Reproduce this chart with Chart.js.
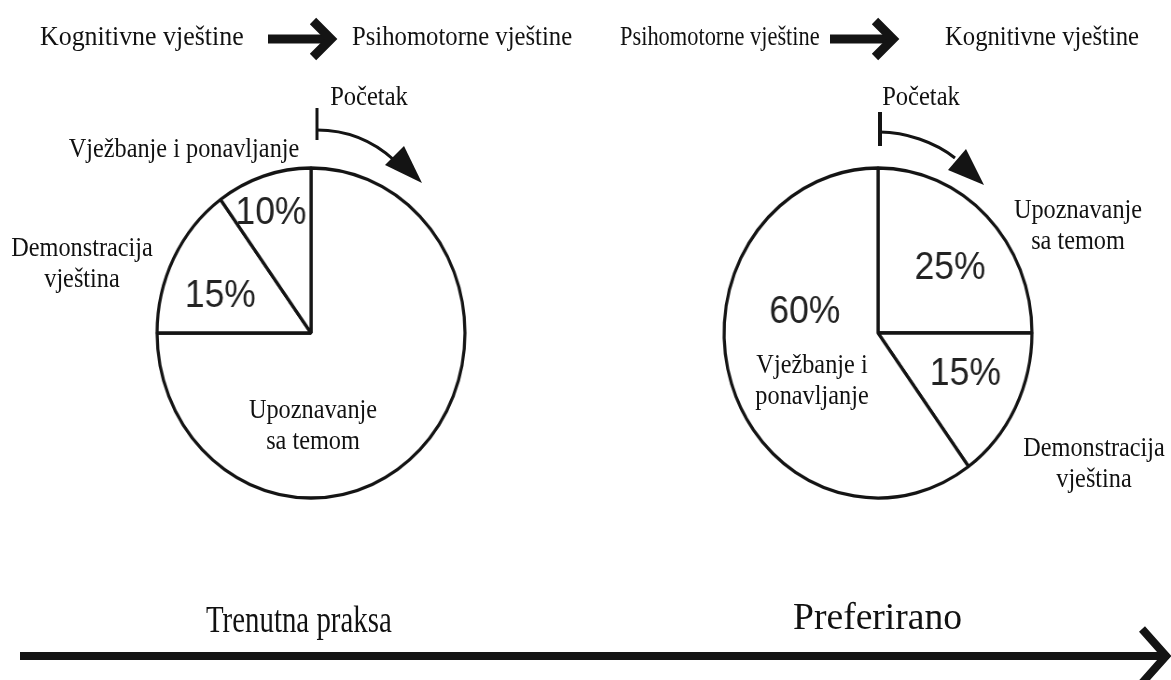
<!DOCTYPE html>
<html>
<head>
<meta charset="utf-8">
<script src="https://cdn.jsdelivr.net/npm/chart.js@4"></script>
<style>
  html, body { margin: 0; padding: 0; background: #fff; }
  #stage { position: relative; width: 1171px; height: 680px; overflow: hidden; }
  .pie { position: absolute; width: 340px; height: 340px; transform: scaleX(0.933); transform-origin: 50% 50%; }
  #overlay { position: absolute; left: 0; top: 0; }
  #overlay text { font-family: "Liberation Serif", "Times New Roman", serif; fill: #111; }
</style>
</head>
<body>
<div id="stage">
  <div class="pie" style="left:141px; top:163px"><canvas id="pieTrenutno"></canvas></div>
  <div class="pie" style="left:708px; top:163px"><canvas id="piePreferirano"></canvas></div>
  <svg id="overlay" width="1171" height="680"></svg>
</div>
<script>
// podaci
const kategorije = ['Upoznavanje sa temom', 'Demonstracija vještina', 'Vježbanje i ponavljanje'];
const trenutnaPraksa = [75, 15, 10];
const preferirano = [25, 15, 60];

const crna = '#141414';

// tekst postotka unutar isjecka (r = udio radijusa, a = pomak kuta u stupnjevima)
const postotciPlugin = {
  id: 'postotci',
  afterDatasetsDraw(chart, args, opts) {
    const ctx = chart.ctx;
    const arcs = chart.getDatasetMeta(0).data;
    const vals = chart.data.datasets[0].data;
    ctx.save();
    ctx.font = '38px "Liberation Sans", Arial, sans-serif';
    ctx.fillStyle = '#222';
    ctx.textAlign = 'center';
    ctx.textBaseline = 'middle';
    arcs.forEach((arc, i) => {
      const s = opts.spots[i];
      if (!s) return;
      const mid = (arc.startAngle + arc.endAngle) / 2 + s.a * Math.PI / 180;
      const d = arc.outerRadius * s.r;
      ctx.fillText(vals[i] + '%', arc.x + Math.cos(mid) * d, arc.y + Math.sin(mid) * d + 5);
    });
    ctx.restore();
  }
};

function napraviPie(id, values, spots) {
  return new Chart(document.getElementById(id), {
    type: 'pie',
    data: {
      labels: kategorije,
      datasets: [{
        data: values,
        backgroundColor: '#fff',
        borderColor: crna,
        borderWidth: 3.3,
        hoverOffset: 0
      }]
    },
    options: {
      responsive: true,
      maintainAspectRatio: false,
      animation: false,
      radius: 165,
      layout: { padding: 0 },
      events: [],
      plugins: {
        legend: { display: false },
        tooltip: { enabled: false },
        postotci: { spots: spots }
      }
    },
    plugins: [postotciPlugin]
  });
}

napraviPie('pieTrenutno', trenutnaPraksa, [null, { r: 0.64, a: -4 }, { r: 0.8, a: -1 }]);
napraviPie('piePreferirano', preferirano, [{ r: 0.63, a: 3 }, { r: 0.61, a: -5.5 }, { r: 0.5, a: 36 }]);

// tekstovi i strelice
const svg = document.getElementById('overlay');
const NS = 'http://www.w3.org/2000/svg';

function tekst(str, x, y, size, sx, anchor) {
  const t = document.createElementNS(NS, 'text');
  t.setAttribute('transform', `translate(${x},${y}) scale(${sx},1)`);
  t.setAttribute('font-size', size);
  t.setAttribute('text-anchor', anchor || 'middle');
  t.textContent = str;
  svg.appendChild(t);
}

// naziv kategorije, lom nakon "br" rijeci
function oznaka(idx, x, y, br) {
  const w = kategorije[idx].split(' ');
  if (br) {
    tekst(w.slice(0, br).join(' '), x, y, 27, 0.9);
    tekst(w.slice(br).join(' '), x, y + 31, 27, 0.9);
  } else {
    tekst(kategorije[idx], x, y, 27, 0.9);
  }
}

function put(d, width, fill) {
  const p = document.createElementNS(NS, 'path');
  p.setAttribute('d', d);
  p.setAttribute('stroke', fill ? 'none' : crna);
  p.setAttribute('fill', fill ? crna : 'none');
  if (width) p.setAttribute('stroke-width', width);
  p.setAttribute('stroke-linecap', 'butt');
  p.setAttribute('stroke-linejoin', 'miter');
  svg.appendChild(p);
}

// gornji red
tekst('Kognitivne vještine', 40, 45, 27, 0.96, 'start');
tekst('Psihomotorne vještine', 352, 45, 27, 0.915, 'start');
tekst('Psihomotorne vještine', 620, 45, 27, 0.83, 'start');
tekst('Kognitivne vještine', 945, 45, 27, 0.915, 'start');
put('M268 39 L328 39', 9);
put('M313 21 L331 39 L313 57', 9);
put('M830 39 L890 39', 9);
put('M875 21 L893 39 L875 57', 9);

// pocetak
tekst('Početak', 369, 105, 27, 0.91);
tekst('Početak', 921, 105, 27, 0.91);
put('M317 108 L317 140', 3);
put('M317 130 C345 130 372 140 394 160', 3);
put('M422 183 L385 165 L404 146 Z', 0, true);
put('M880 112 L880 146', 4);
put('M880 132 C905 132 935 142 955 158', 3);
put('M984 185 L948 170 L966 149 Z', 0, true);

// oznake lijevo
oznaka(2, 184, 157, 0);
oznaka(1, 82, 256, 1);
oznaka(0, 313, 418, 1);
// oznake desno
oznaka(0, 1078, 218, 1);
oznaka(2, 812, 373, 2);
oznaka(1, 1094, 456, 1);

// donja strelica
tekst('Trenutna praksa', 206, 632, 38, 0.76, 'start');
tekst('Preferirano', 793, 629, 38, 0.99, 'start');
put('M20 656 L1164 656', 8);
put('M1142 629 L1166 656 L1142 683', 8);
</script>
</body>
</html>
